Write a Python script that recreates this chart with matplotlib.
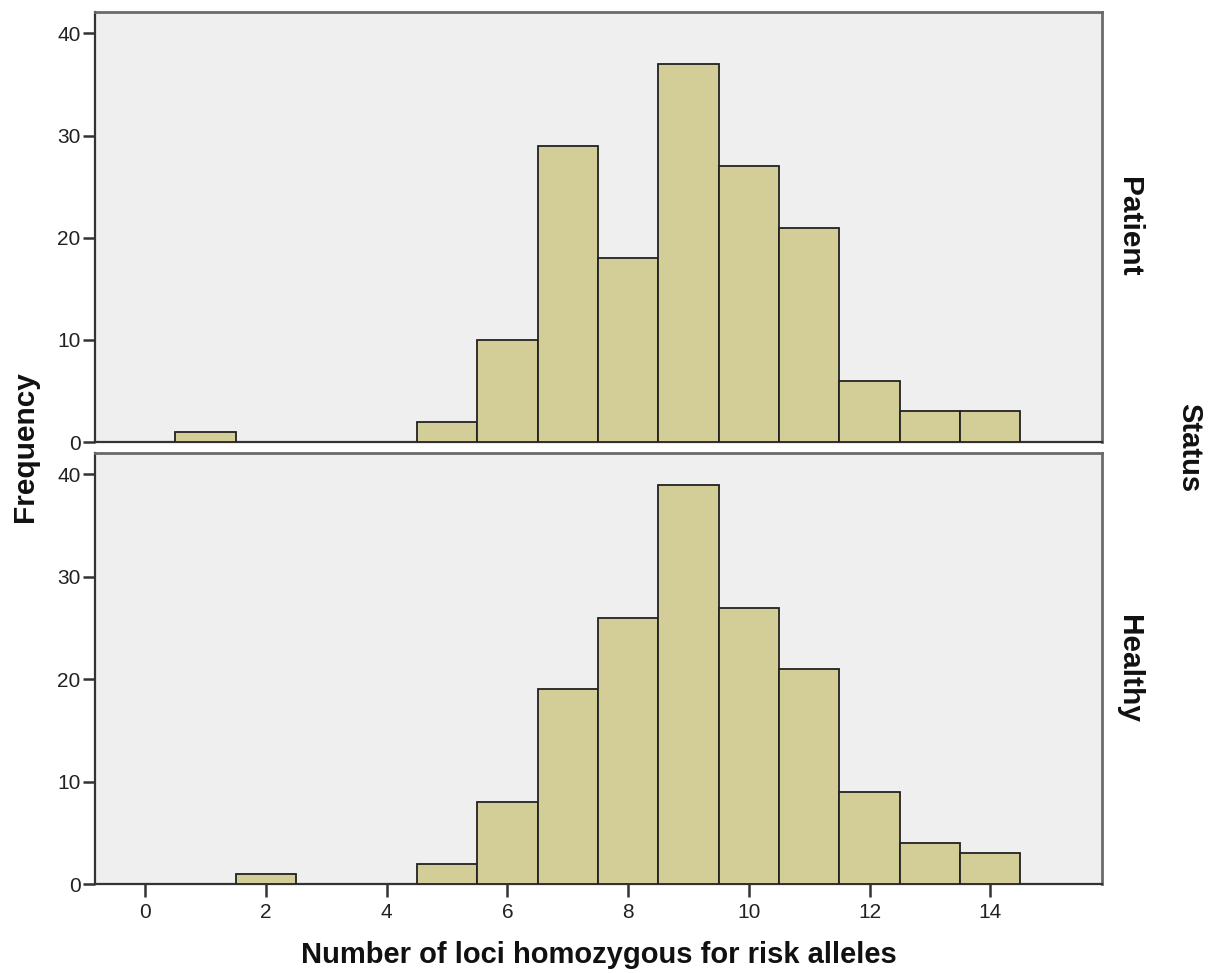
import matplotlib
matplotlib.use("Agg")
import matplotlib.pyplot as plt

# Histogram counts per number of homozygous risk loci
loci = [0, 1, 2, 3, 4, 5, 6, 7, 8, 9, 10, 11, 12, 13, 14]
patient_counts = [0, 1, 0, 0, 0, 2, 10, 29, 18, 37, 27, 21, 6, 3, 3]
healthy_counts = [0, 0, 1, 0, 0, 2, 8, 19, 26, 39, 27, 21, 9, 4, 3]
groups = ["Patient", "Healthy"]
x_ticks = [0, 2, 4, 6, 8, 10, 12, 14]
y_ticks = [0, 10, 20, 30, 40]

plt.rcParams["font.family"] = ["Liberation Sans", "DejaVu Sans"]

BAR_COLOR = "#D3CE97"
PANEL_BG = "#EFEFEF"

fig = plt.figure(figsize=(12.16, 9.73), dpi=100)
W, H = 1216, 973


def panel_rect(left, top, right, bottom):
    return [left / W, 1 - bottom / H, (right - left) / W, (bottom - top) / H]


ax_top = fig.add_axes(panel_rect(95, 12, 1102, 442))
ax_bot = fig.add_axes(panel_rect(95, 453, 1102, 884))

for ax, counts, name in zip([ax_top, ax_bot], [patient_counts, healthy_counts], groups):
    xs = [x for x, c in zip(loci, counts) if c > 0]
    hs = [c for c in counts if c > 0]
    ax.bar(xs, hs, width=1.0, align="center", color=BAR_COLOR,
           edgecolor="#222222", linewidth=1.3, zorder=3)
    ax.set_facecolor(PANEL_BG)
    ax.set_xlim(-0.83, 15.85)
    ax.set_ylim(0, 42.1)
    ax.set_yticks(y_ticks)
    ax.set_yticklabels([str(v) for v in y_ticks], fontsize=15, color="#222222")
    ax.tick_params(axis="y", direction="out", length=9, width=1.8,
                   color="#333333", pad=1.5)
    for side in ["left", "bottom"]:
        ax.spines[side].set_color("#333333")
        ax.spines[side].set_linewidth(1.6)
    for side in ["top", "right"]:
        ax.spines[side].set_color("#6a6a6a")
        ax.spines[side].set_linewidth(2.0)
    ax.text(1.0 + 27 / 1007, 0.5, name, transform=ax.transAxes,
            rotation=-90, ha="center", va="center", fontsize=21.5,
            fontweight="bold", color="#111111")

ax_top.set_xticks([])
ax_bot.set_xticks(x_ticks)
ax_bot.set_xticklabels([str(v) for v in x_ticks], fontsize=15, color="#222222")
ax_bot.tick_params(axis="x", direction="out", length=9, width=1.8,
                   color="#333333", pad=5)

fig.text(25 / W, 1 - 447 / H, "Frequency", rotation=90, ha="center",
         va="center", fontsize=21.5, fontweight="bold", color="#111111")
fig.text(1189 / W, 1 - 448 / H, "Status", rotation=-90, ha="center",
         va="center", fontsize=21, fontweight="bold", color="#111111")
fig.text(599 / W, 1 - 955 / H, "Number of loci homozygous for risk alleles",
         ha="center", va="center", fontsize=21, fontweight="bold",
         color="#111111")

fig.savefig("out.png", dpi=100, facecolor="white")
